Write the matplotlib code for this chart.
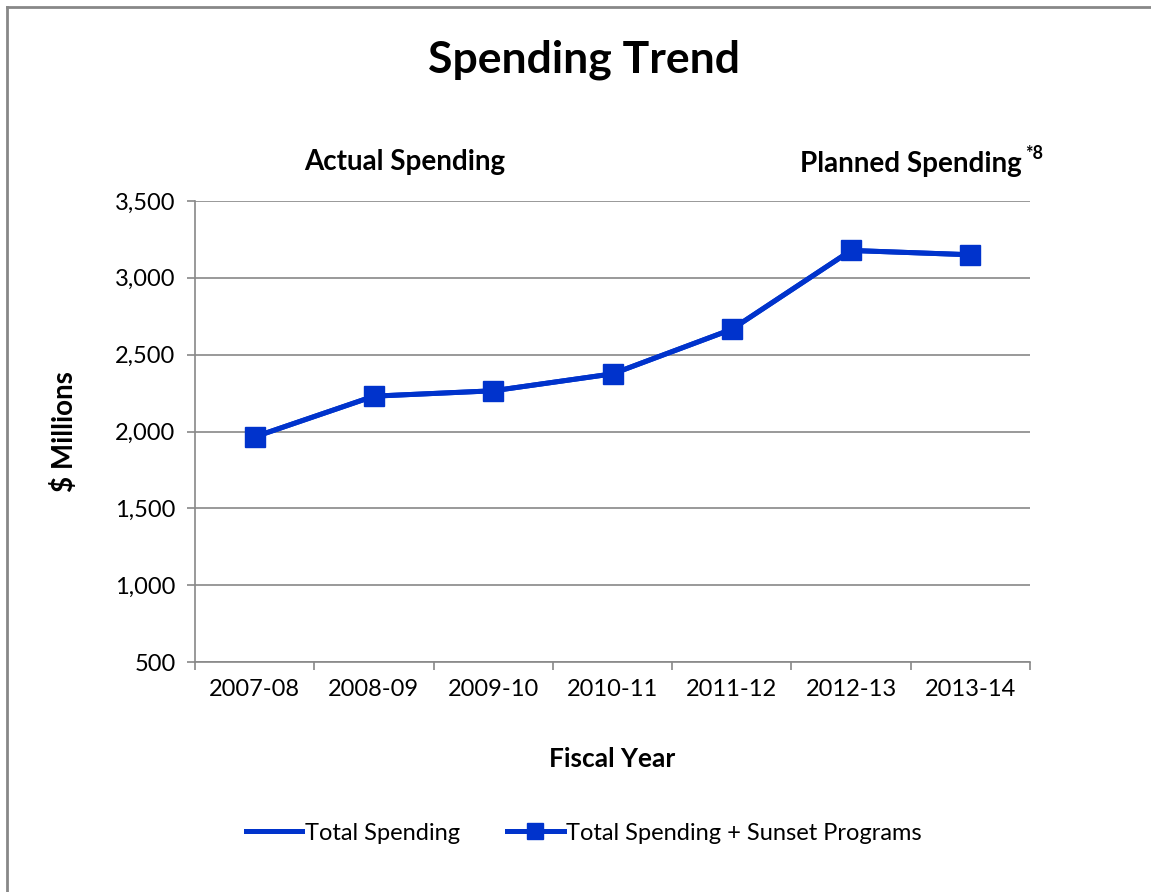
import numpy as np
import matplotlib.pyplot as plt
from matplotlib.lines import Line2D

years = ['2007-08', '2008-09', '2009-10', '2010-11', '2011-12', '2012-13', '2013-14']
total_spending = [1965, 2230, 2265, 2375, 2665, 3178, 3150]
total_plus_sunset = [1965, 2230, 2265, 2375, 2665, 3178, 3150]
yticks = [500, 1000, 1500, 2000, 2500, 3000, 3500]

plt.rcParams['font.family'] = ['Lato', 'DejaVu Sans']
blue = '#0033CC'
grey = '#888888'

fig = plt.figure(figsize=(11.51, 8.92), dpi=100)
ax = fig.add_axes([0.1694, 0.2578, 0.7255, 0.5169])

x = np.arange(len(years))
ax.plot(x, total_spending, color=blue, lw=3.6, zorder=3)
ax.plot(x, total_plus_sunset, color=blue, lw=3.6, marker='s', markersize=14, zorder=4)

ax.set_xlim(-0.5, len(years) - 0.5)
ax.set_ylim(500, 3500)
ax.set_yticks(yticks)
ax.set_yticklabels([f'{v:,}' for v in yticks], fontsize=17)
ax.yaxis.grid(True, color=grey, lw=1.2)
ax.set_axisbelow(True)

ax.set_xticks(np.arange(-0.5, len(years)), minor=False)
ax.set_xticklabels([])
ax.set_xticks(x, minor=True)
ax.set_xticklabels(years, minor=True, fontsize=17)
ax.tick_params(axis='x', which='minor', length=0, pad=12)
ax.tick_params(axis='x', which='major', length=6, color=grey, width=1.2)
ax.tick_params(axis='y', length=6, color=grey, width=1.2, pad=8)

for s in ['top', 'right']:
    ax.spines[s].set_visible(False)
for s in ['left', 'bottom']:
    ax.spines[s].set_color(grey)
    ax.spines[s].set_linewidth(1.2)

ax.set_xlabel('Fiscal Year', fontsize=19, fontweight='bold', labelpad=34)
ax.set_ylabel('$ Millions', fontsize=20, fontweight='bold', labelpad=27)

fig.text(0.507, 0.933, 'Spending Trend', ha='center', va='center', fontsize=32, fontweight='bold')
fig.text(0.352, 0.818, 'Actual Spending', ha='center', va='center', fontsize=20, fontweight='bold')
fig.text(0.888, 0.816, 'Planned Spending', ha='right', va='center', fontsize=20, fontweight='bold')
fig.text(0.891, 0.828, '*8', ha='left', va='center', fontsize=13, fontweight='bold')

handles = [Line2D([], [], color=blue, lw=3.6),
           Line2D([], [], color=blue, lw=3.6, marker='s', markersize=12)]
fig.legend(handles, ['Total Spending', 'Total Spending + Sunset Programs'],
           loc='center', bbox_to_anchor=(0.507, 0.066), ncol=2, frameon=False,
           fontsize=17, handlelength=2.4, handletextpad=0.1, columnspacing=2.0)

# chart frame (top and left edges visible)
fig.add_artist(Line2D([0.006, 0.006], [0, 0.992], color=grey, lw=2, transform=fig.transFigure))
fig.add_artist(Line2D([0.006, 1], [0.992, 0.992], color=grey, lw=2, transform=fig.transFigure))

fig.savefig('out.png', dpi=100, facecolor='white')
